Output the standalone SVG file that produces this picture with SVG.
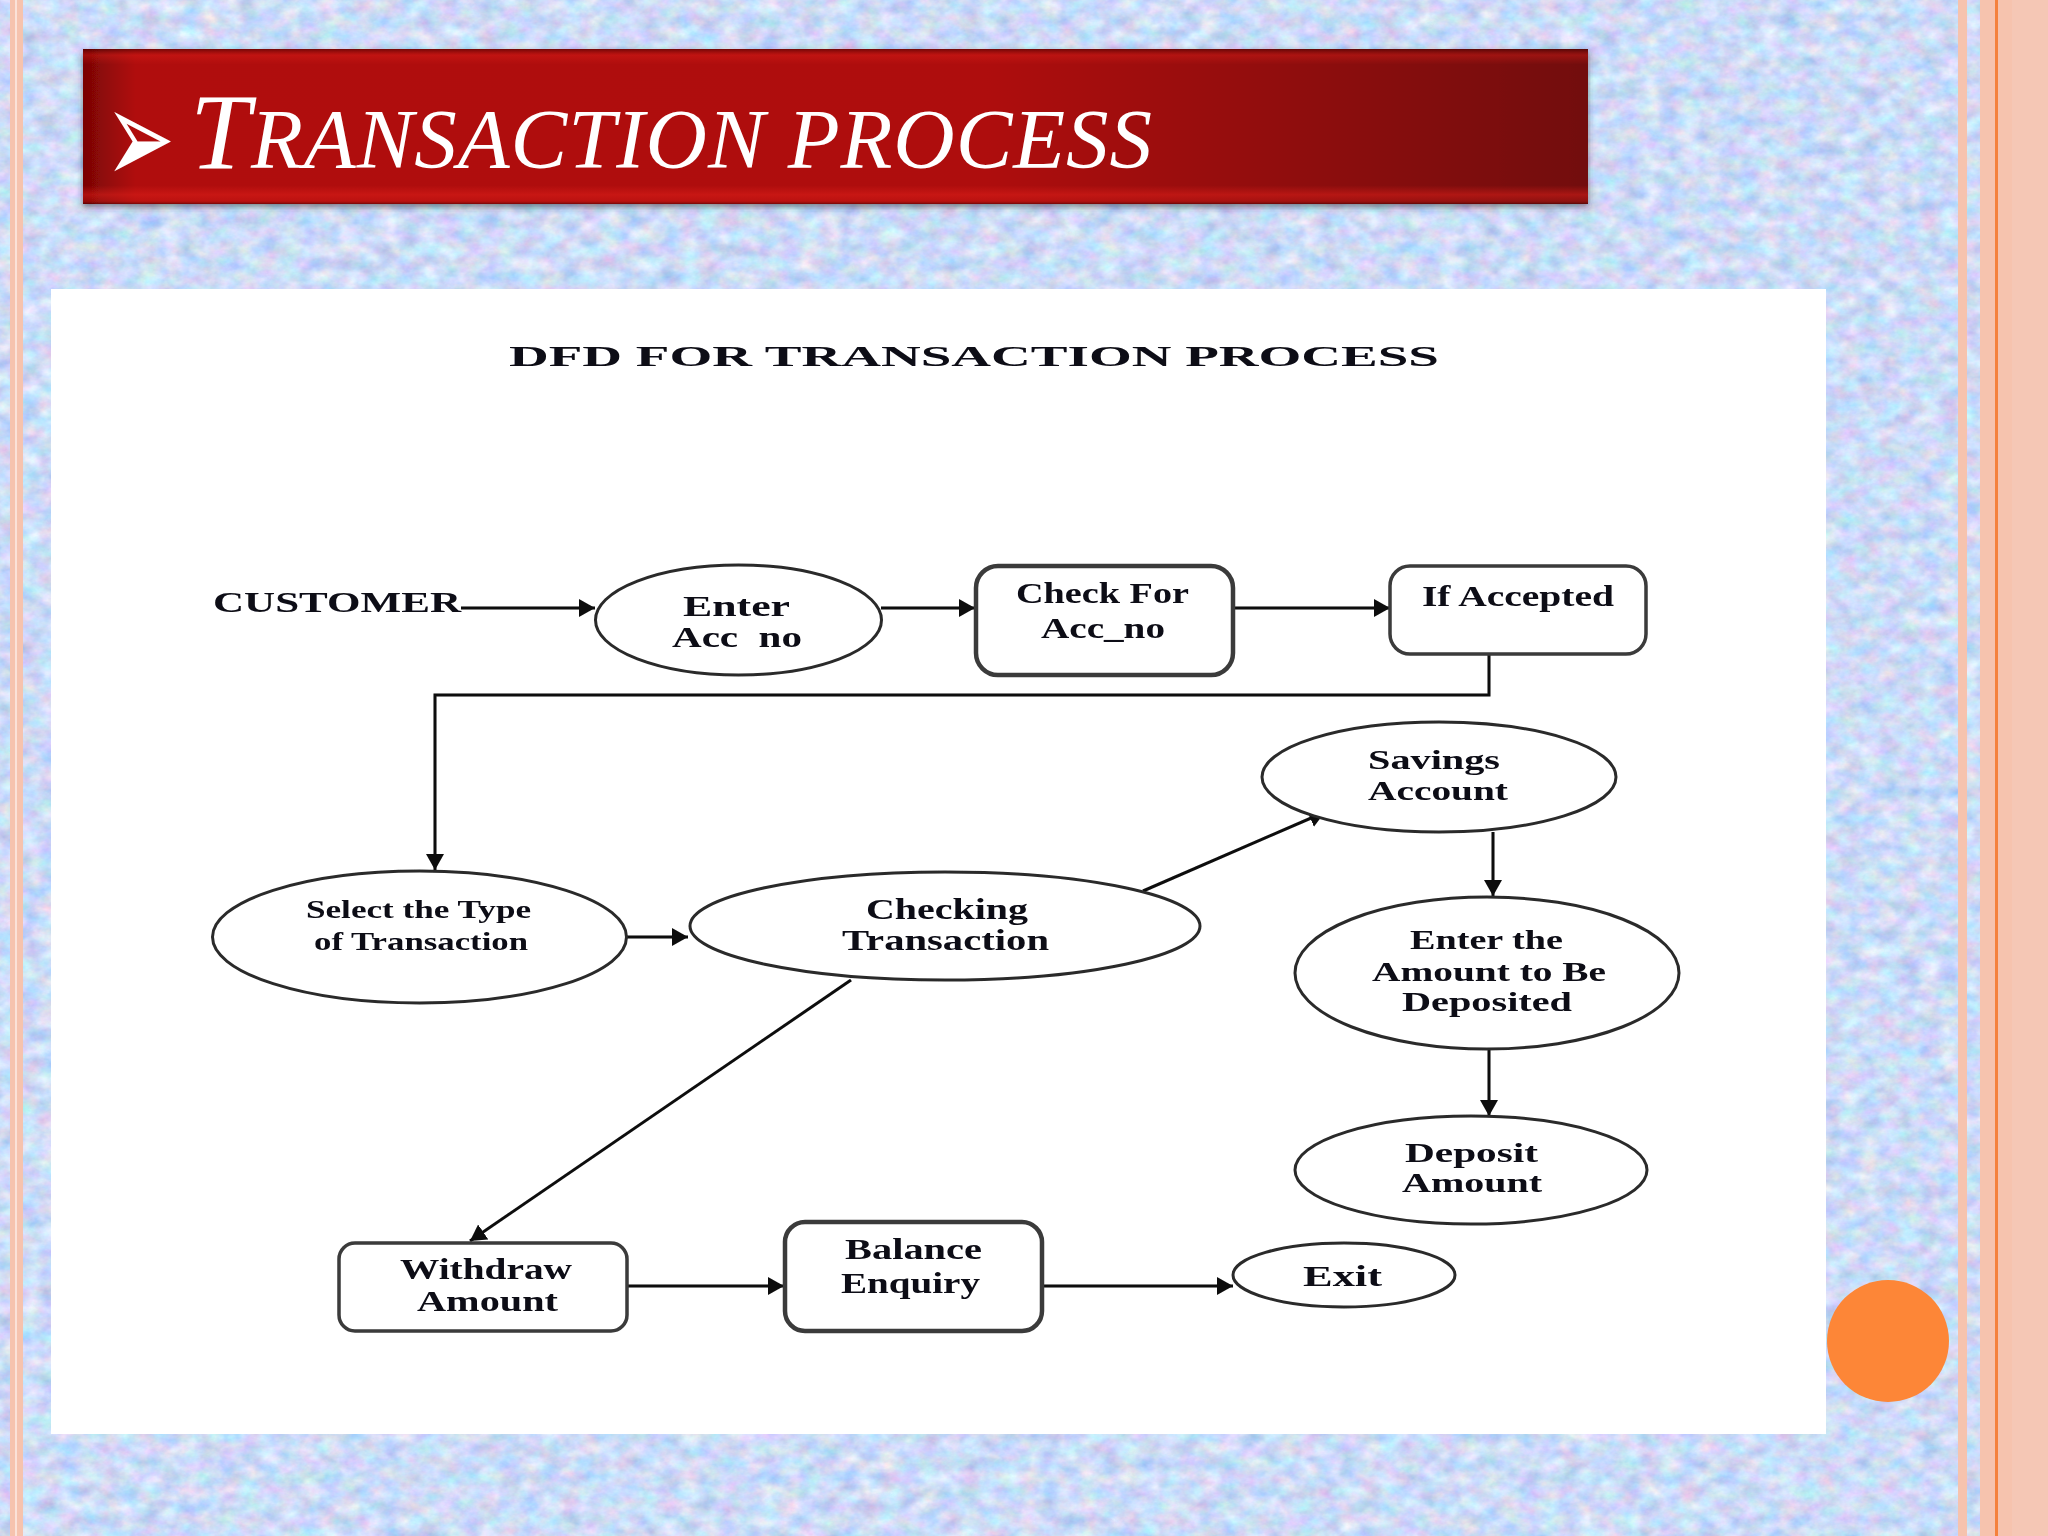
<svg xmlns="http://www.w3.org/2000/svg" width="2048" height="1536" viewBox="0 0 2048 1536">
<style>
.shape{fill:#fff;stroke:#2a2a2a;stroke-width:3}
.box{fill:#fff;stroke:#3a3a3a;stroke-width:3.5}
.wide{stroke-width:4.5}
.edge{fill:none;stroke:#0c0c0c;stroke-width:3;marker-end:url(#head)}
.t{font-family:"Liberation Serif",serif;font-weight:bold;fill:#0a0a14;font-size:29px}
.s{font-size:25px}
.d{font-size:27px}
.strip{fill:#f6c3ae}
</style>
<defs>
<marker id="head" markerUnits="userSpaceOnUse" markerWidth="20" markerHeight="20" refX="16" refY="9" orient="auto"><path d="M0 0L16 9L0 18Z" fill="#0c0c0c"/></marker>
<filter id="tex" x="0" y="0" width="100%" height="100%" color-interpolation-filters="sRGB">
<feTurbulence type="fractalNoise" baseFrequency="0.05 0.07" numOctaves="4" seed="7"/>
<feColorMatrix type="matrix" values="0.38 0.14 0 0 0.54  0 0.28 0.1 0 0.67  0 0 0.2 0 0.87  0 0 0 0 1"/>
</filter>
<filter id="soft" x="-5%" y="-5%" width="110%" height="110%"><feGaussianBlur stdDeviation="0.7"/></filter>
<filter id="shadow" x="-2%" y="-10%" width="104%" height="125%"><feDropShadow dx="0" dy="3" stdDeviation="3" flood-color="#333" flood-opacity="0.55"/></filter>
<linearGradient id="ban" x1="0" x2="1" y1="0" y2="0">
<stop offset="0" stop-color="#7a0505"/><stop offset="0.035" stop-color="#b00c0b"/><stop offset="0.6" stop-color="#ae0a0a"/><stop offset="0.8" stop-color="#900708"/><stop offset="1" stop-color="#720707"/>
</linearGradient>
<linearGradient id="banv" x1="0" x2="0" y1="0" y2="1">
<stop offset="0" stop-color="#300" stop-opacity="0.5"/><stop offset="0.04" stop-color="#e0201a" stop-opacity="0.35"/><stop offset="0.1" stop-color="#e0201a" stop-opacity="0"/><stop offset="0.88" stop-color="#e0201a" stop-opacity="0"/><stop offset="0.94" stop-color="#e0201a" stop-opacity="0.5"/><stop offset="0.98" stop-color="#e0201a" stop-opacity="0.25"/><stop offset="1" stop-color="#300" stop-opacity="0.5"/>
</linearGradient>
</defs>
<rect width="2048" height="1536" fill="#c3d6f5"/>
<rect width="2048" height="1536" filter="url(#tex)"/>
<rect class="strip" x="10" y="0" width="13" height="1536"/>
<rect x="15" y="0" width="2" height="1536" fill="#fbe2d8"/>
<rect class="strip" x="1958" y="0" width="9" height="1536"/>
<rect class="strip" x="1980" y="0" width="68" height="1536"/>
<rect x="1995" y="0" width="3" height="1536" fill="#f5813c"/>
<rect x="2012" y="0" width="36" height="1536" fill="#f5c7b5"/>

<g id="banner">
<rect x="83" y="49" width="1505" height="155" fill="url(#ban)" filter="url(#shadow)"/>
<rect x="83" y="49" width="1505" height="155" fill="url(#banv)"/>
<text transform="translate(105 184) scale(1.1 1.78)" font-family="'DejaVu Sans',sans-serif" font-size="76" fill="#fff">➢</text>
<text x="190" y="168" font-family="'Liberation Serif',serif" font-style="italic" fill="#fff" font-size="85" textLength="962" lengthAdjust="spacing"><tspan font-size="108">T</tspan>RANSACTION PROCESS</text>
</g>

<rect id="panel" x="51" y="289" width="1775" height="1145" fill="#fff"/>
<circle id="dot" cx="1888" cy="1341" r="61" fill="#fd8637"/>

<g filter="url(#soft)">
<text id="diagram-title" class="t" x="509" y="366" font-size="37" textLength="930" lengthAdjust="spacingAndGlyphs">DFD FOR TRANSACTION PROCESS</text>

<g id="connectors">
<path class="edge" d="M461 608H595"/>
<path class="edge" d="M881 608H975"/>
<path class="edge" d="M1233 608H1390"/>
<path class="edge" d="M1489 654V695H435V870"/>
<path class="edge" d="M626 937H688"/>
<path class="edge" d="M1143 891L1325 812"/>
<path class="edge" d="M851 980L470 1241"/>
<path class="edge" d="M1493 832V896"/>
<path class="edge" d="M1489 1049V1116"/>
<path class="edge" d="M627 1286H784"/>
<path class="edge" d="M1042 1286H1233"/>
</g>

<g id="customer"><text class="t" x="213" y="612" textLength="248" lengthAdjust="spacingAndGlyphs">CUSTOMER</text></g>
<g id="enter-acc"><ellipse class="shape" cx="738.5" cy="620" rx="143" ry="55"/>
<text class="t" x="683" y="616" textLength="107" lengthAdjust="spacingAndGlyphs">Enter</text>
<text class="t" x="672" y="647" textLength="130" lengthAdjust="spacingAndGlyphs" xml:space="preserve">Acc  no</text></g>
<g id="check-for"><rect class="box wide" x="976" y="566" width="257" height="109" rx="22"/>
<text class="t" x="1016" y="603" textLength="173" lengthAdjust="spacingAndGlyphs">Check For</text>
<text class="t" x="1041" y="638" textLength="124" lengthAdjust="spacingAndGlyphs">Acc_no</text></g>
<g id="if-accepted"><rect class="box" x="1390" y="566" width="256" height="88" rx="20"/>
<text class="t" x="1422" y="606" textLength="192" lengthAdjust="spacingAndGlyphs">If Accepted</text></g>
<g id="select-type"><ellipse class="shape" cx="419.5" cy="937" rx="207" ry="66"/>
<text class="t s" x="306" y="918" textLength="225" lengthAdjust="spacingAndGlyphs">Select the Type</text>
<text class="t s" x="314" y="950" textLength="214" lengthAdjust="spacingAndGlyphs">of Transaction</text></g>
<g id="checking"><ellipse class="shape" cx="945" cy="926" rx="255" ry="54"/>
<text class="t" x="866" y="919" textLength="162" lengthAdjust="spacingAndGlyphs">Checking</text>
<text class="t" x="842" y="950" textLength="207" lengthAdjust="spacingAndGlyphs">Transaction</text></g>
<g id="savings"><ellipse class="shape" cx="1439" cy="777" rx="177" ry="55"/>
<text class="t d" x="1368" y="769" textLength="132" lengthAdjust="spacingAndGlyphs">Savings</text>
<text class="t d" x="1368" y="800" textLength="140" lengthAdjust="spacingAndGlyphs">Account</text></g>
<g id="enter-amount"><ellipse class="shape" cx="1487" cy="973" rx="192" ry="76"/>
<text class="t d" x="1410" y="949" textLength="153" lengthAdjust="spacingAndGlyphs">Enter the</text>
<text class="t d" x="1372" y="981" textLength="234" lengthAdjust="spacingAndGlyphs">Amount to Be</text>
<text class="t d" x="1402" y="1011" textLength="170" lengthAdjust="spacingAndGlyphs">Deposited</text></g>
<g id="deposit"><ellipse class="shape" cx="1471" cy="1170" rx="176" ry="54"/>
<text class="t d" x="1405" y="1162" textLength="133" lengthAdjust="spacingAndGlyphs">Deposit</text>
<text class="t d" x="1402" y="1192" textLength="140" lengthAdjust="spacingAndGlyphs">Amount</text></g>
<g id="withdraw"><rect class="box" x="339" y="1243" width="288" height="88" rx="16"/>
<text class="t" x="400" y="1279" textLength="172" lengthAdjust="spacingAndGlyphs">Withdraw</text>
<text class="t" x="417" y="1311" textLength="141" lengthAdjust="spacingAndGlyphs">Amount</text></g>
<g id="balance"><rect class="box wide" x="785" y="1222" width="257" height="109" rx="20"/>
<text class="t" x="845" y="1259" textLength="137" lengthAdjust="spacingAndGlyphs">Balance</text>
<text class="t" x="841" y="1293" textLength="139" lengthAdjust="spacingAndGlyphs">Enquiry</text></g>
<g id="exit"><ellipse class="shape" cx="1344" cy="1275" rx="111" ry="32"/>
<text class="t" x="1303" y="1286" textLength="79" lengthAdjust="spacingAndGlyphs">Exit</text></g>
</g>
</svg>
